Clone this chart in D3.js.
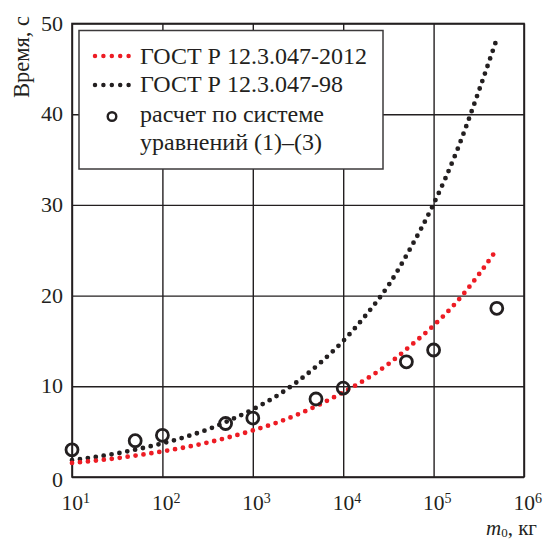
<!DOCTYPE html>
<html>
<head>
<meta charset="utf-8">
<script src="https://cdn.jsdelivr.net/npm/d3@7"></script>
<style>
  html, body { margin: 0; padding: 0; background: #fff; }
  svg text { font-family: "Liberation Serif", "Times New Roman", serif; fill: #231f20; }
</style>
</head>
<body>
<svg id="chart" width="545" height="540"></svg>
<script>
// ---- data ----
const massGrid = [10, 18, 32, 56, 100, 180, 320, 560, 1000, 1800, 3200, 5600,
                  10000, 18000, 32000, 56000, 100000, 180000, 320000, 500000];
const gost2012 = [1.55, 1.80, 2.09, 2.43, 2.82, 3.28, 3.81, 4.42, 5.13, 5.96, 6.93, 8.04,
                  9.34, 10.8, 12.5, 14.5, 16.7, 19.3, 22.4, 25.1];
const gost98   = [1.85, 2.20, 2.62, 3.12, 3.71, 4.42, 5.26, 6.27, 7.46, 8.88, 10.6, 12.6,
                  15.0, 17.9, 21.2, 25.3, 30.1, 35.9, 42.7, 48.3];
const calcMass = [10, 50, 100, 500, 1000, 5000, 10000, 50000, 100000, 500000];
const calcTime = [3.0, 4.0, 4.6, 5.9, 6.5, 8.6, 9.8, 12.7, 14.0, 18.6];
const xTickValues = [1e1, 1e2, 1e3, 1e4, 1e5, 1e6];
const xTickExp = ["1", "2", "3", "4", "5", "6"];
const yTickValues = [0, 10, 20, 30, 40, 50];
const legendLabels = ["ГОСТ Р 12.3.047-2012", "ГОСТ Р 12.3.047-98", "расчет по системе", "уравнений (1)–(3)"];
const yLabel = "Время, с";

// ---- layout ----
const svg = d3.select("#chart");
const pL = 72, pR = 524, pT = 23.5, pB = 477;
const ink = "#231f20", red = "#ed1c24";

const x = d3.scaleLog().domain([10, 1e6]).range([pL, pR]);
const y = d3.scaleLinear().domain([0, 50]).range([pB, pT]);

// grid
const grid = svg.append("g");
grid.append("g")
  .attr("transform", `translate(0,${pB})`)
  .call(d3.axisBottom(x).tickValues(xTickValues).tickSize(-(pB - pT)).tickFormat(""))
  .call(g => g.select(".domain").remove())
  .call(g => g.selectAll("line").attr("stroke", ink).attr("stroke-width", 1.4));
grid.append("g")
  .attr("transform", `translate(${pL},0)`)
  .call(d3.axisLeft(y).tickValues(yTickValues).tickSize(-(pR - pL)).tickFormat(""))
  .call(g => g.select(".domain").remove())
  .call(g => g.selectAll("line").attr("stroke", ink).attr("stroke-width", 1.4));
svg.append("rect")
  .attr("x", pL).attr("y", pT).attr("width", pR - pL).attr("height", pB - pT)
  .attr("fill", "none").attr("stroke", ink).attr("stroke-width", 1.6);

// tick labels
yTickValues.forEach(v => {
  svg.append("text")
    .attr("x", pL - 9).attr("y", y(v) + (v === 0 ? 10 : 7))
    .attr("text-anchor", "end").attr("font-size", 22)
    .text(v);
});
xTickValues.forEach((v, i) => {
  const t = svg.append("text")
    .attr("x", x(v) - 10.5).attr("y", 509.5)
    .attr("text-anchor", "start").attr("font-size", 21.5);
  t.append("tspan").text("10");
  t.append("tspan").attr("font-size", 14).attr("dy", -7).text(xTickExp[i]);
});

// axis labels
svg.append("text")
  .attr("transform", `translate(29,57) rotate(-90)`)
  .attr("text-anchor", "middle").attr("font-size", 22.5)
  .text(yLabel);
const xl = svg.append("text")
  .attr("x", 537).attr("y", 535)
  .attr("text-anchor", "end").attr("font-size", 21);
xl.append("tspan").attr("font-style", "italic").text("m");
xl.append("tspan").attr("font-size", 13).attr("dy", 2).text("0");
xl.append("tspan").attr("dy", -2).text(", кг");

// curves
const line = d3.line()
  .x(d => x(d[0])).y(d => y(d[1]))
  .curve(d3.curveMonotoneX);
function dotted(vals, color) {
  svg.append("path")
    .datum(massGrid.map((m, i) => [m, vals[i]]))
    .attr("d", line)
    .attr("fill", "none")
    .attr("stroke", color)
    .attr("stroke-width", 4.8)
    .attr("stroke-linecap", "round")
    .attr("stroke-dasharray", "0 8");
}
dotted(gost98, ink);
dotted(gost2012, red);

// calculated points
svg.append("g").selectAll("circle")
  .data(calcMass.map((m, i) => [m, calcTime[i]]))
  .join("circle")
  .attr("cx", d => x(d[0])).attr("cy", d => y(d[1]))
  .attr("r", 6)
  .attr("fill", "none").attr("stroke", ink).attr("stroke-width", 2.8);

// legend
const lg = svg.append("g");
lg.append("rect")
  .attr("x", 79).attr("y", 30.5).attr("width", 304).attr("height", 138.5)
  .attr("fill", "#fff").attr("stroke", "#3c3a3b").attr("stroke-width", 1.5);
const legendColors = [red, ink];
legendColors.forEach((c, i) => {
  const cy = 56 + i * 29;
  lg.append("path")
    .attr("d", `M95,${cy}H129`)
    .attr("stroke", c).attr("stroke-width", 4.5)
    .attr("stroke-linecap", "round").attr("stroke-dasharray", "0 8.4");
});
lg.append("circle")
  .attr("cx", 112).attr("cy", 116.5).attr("r", 4.3)
  .attr("fill", "none").attr("stroke", ink).attr("stroke-width", 2.4);
const baselines = [63.5, 92, 122, 150];
legendLabels.forEach((s, i) => {
  lg.append("text")
    .attr("x", 140).attr("y", baselines[i])
    .attr("font-size", 24)
    .text(s);
});
</script>
</body>
</html>
